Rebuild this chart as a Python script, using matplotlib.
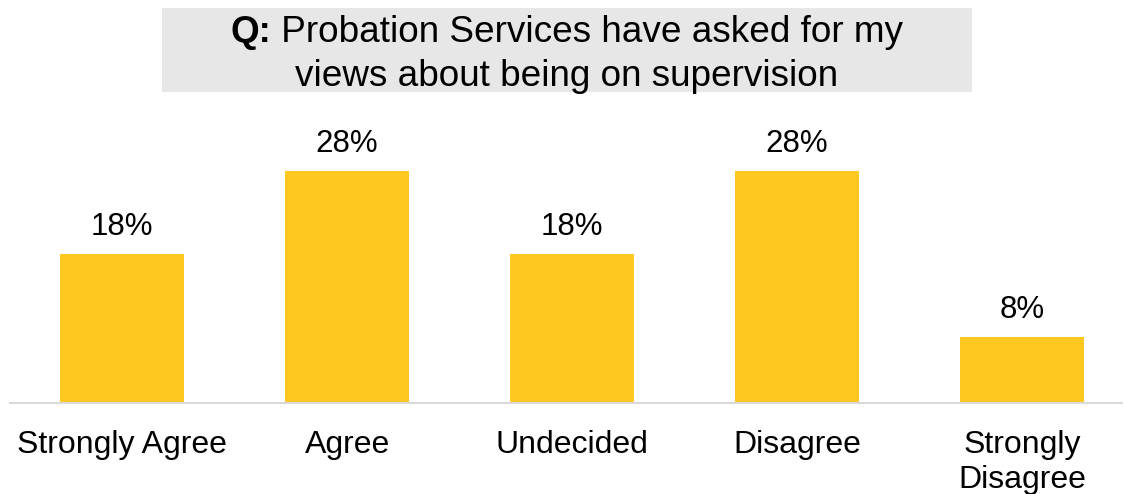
import matplotlib
matplotlib.use("Agg")
import matplotlib.pyplot as plt
from matplotlib.patches import Rectangle

categories = ["Strongly Agree", "Agree", "Undecided", "Disagree", "Strongly\nDisagree"]
values = [18, 28, 18, 28, 8]
value_labels = ["18%", "28%", "18%", "28%", "8%"]

plt.rcParams["font.family"] = ["Liberation Sans", "DejaVu Sans"]

W, H = 1124, 494
fig = plt.figure(figsize=(W / 100, H / 100), dpi=100)
renderer = fig.canvas.get_renderer()

# title box
fig.patches.append(Rectangle((162 / W, 1 - 92 / H), (972 - 162) / W, (92 - 8) / H,
                             transform=fig.transFigure, facecolor="#E7E7E7",
                             edgecolor="none", zorder=0))
title_size = 26.6
cx = 567
q = fig.text(0, 1 - 33 / H, "Q:", ha="left", va="center",
             fontsize=title_size, fontweight="bold")
rest = fig.text(0, 1 - 33 / H, " Probation Services have asked for my", ha="left",
                va="center", fontsize=title_size)
wq = q.get_window_extent(renderer).width
wr = rest.get_window_extent(renderer).width
x0 = cx - (wq + wr) / 2
q.set_x(x0 / W)
rest.set_x((x0 + wq) / W)
fig.text(cx / W, 1 - 76 / H, "views about being on supervision",
         ha="center", va="center", fontsize=title_size)

ax = fig.add_axes([10 / W, 1 - 403 / H, 1112 / W, 303 / H])
x = list(range(len(categories)))
ax.bar(x, values, width=0.55, color="#FFC820", zorder=2)
ax.set_xlim(-0.498, 4.444)
ax.set_ylim(0, 303 / 8.3)

for xi, v, lab in zip(x, values, value_labels):
    ax.annotate(lab, (xi, v), xytext=(0, 8), textcoords="offset points",
                ha="center", va="bottom", fontsize=22.5)

for side in ["top", "right", "left"]:
    ax.spines[side].set_visible(False)
ax.spines["bottom"].set_color("#D9D9D9")
ax.spines["bottom"].set_linewidth(1.5)
ax.set_yticks([])
ax.set_xticks(x)
ax.set_xticklabels(categories, fontsize=23, linespacing=1.22)
ax.tick_params(axis="x", length=0, pad=19.5)

fig.savefig("out.png", dpi=100)
